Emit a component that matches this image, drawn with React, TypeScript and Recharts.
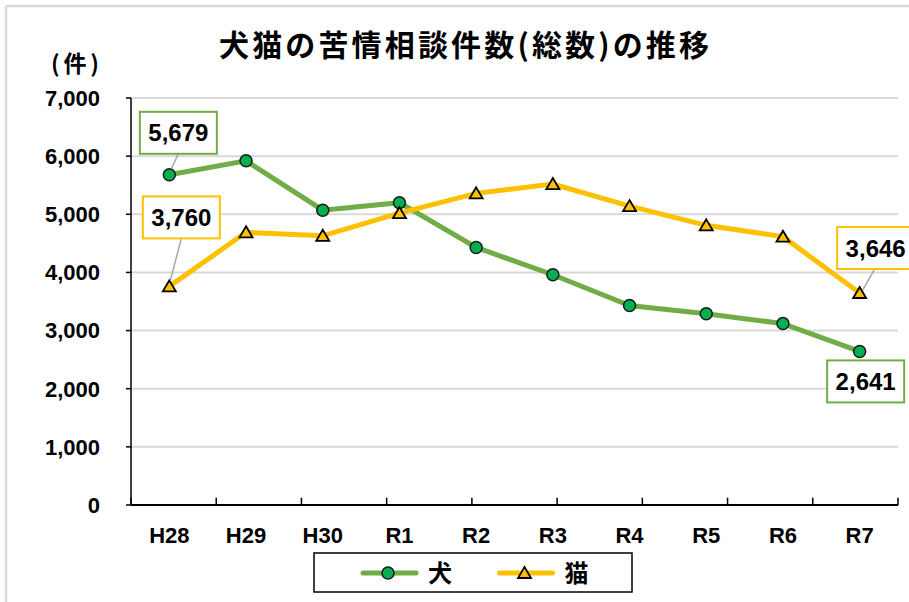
import { CartesianGrid, LabelList, Line, LineChart, ReferenceLine, XAxis, YAxis } from 'recharts'

const years = ['H28', 'H29', 'H30', 'R1', 'R2', 'R3', 'R4', 'R5', 'R6', 'R7']
const dogCounts = [5679, 5920, 5070, 5200, 4430, 3960, 3430, 3290, 3120, 2641]
const catCounts = [3760, 4690, 4630, 5020, 5360, 5520, 5140, 4810, 4615, 3646]
const yTicks = [0, 1000, 2000, 3000, 4000, 5000, 6000, 7000]
const categoryEdges = [0, 1, 2, 3, 4, 5, 6, 7, 8, 9, 10]

const series = [
  { key: 'dog', name: '犬', line: '#70AD47', fill: '#00B050', marker: 'circle' },
  { key: 'cat', name: '猫', line: '#FFC000', fill: '#FFC000', marker: 'triangle' },
]

const rows = years.map((year, i) => ({ year, dog: dogCounts[i], cat: catCounts[i] }))

const jp = '"Noto Sans CJK JP", "Noto Sans", sans-serif'
const num = '"Liberation Sans", Arial, sans-serif'

function Marker({ type, cx, cy, fill }: { type: string; cx: number; cy: number; fill: string }) {
  if (type === 'circle') {
    return <circle cx={cx} cy={cy} r={6} fill={fill} stroke="#1a1a1a" strokeWidth={1.5} />
  }
  return (
    <path
      d={`M${cx},${cy - 6} L${cx + 6.5},${cy + 5} L${cx - 6.5},${cy + 5} Z`}
      fill={fill}
      stroke="#000"
      strokeWidth={1.8}
      strokeLinejoin="miter"
    />
  )
}

// callout box offsets from the data point, only first and last year are labelled
const dogCallouts: Record<number, { dx: number; dy: number; lead?: number[] }> = {
  0: { dx: 9, dy: -42, lead: [9, -21, 2, -6] },
  9: { dx: 6, dy: 30 },
}
const catCallouts: Record<number, { dx: number; dy: number; lead?: number[] }> = {
  0: { dx: 12, dy: -69, lead: [12, -48, 1, -6] },
  9: { dx: 16, dy: -45, lead: [15, -24, 3, -3] },
}

function makeCallout(values: number[], spots: typeof dogCallouts, color: string) {
  return (props: any) => {
    const x = Number(props.x)
    const y = Number(props.y)
    const idx = props.index ?? values.indexOf(Number(props.value))
    const spot = spots[idx]
    if (!spot || isNaN(x) || isNaN(y)) return null
    const bx = x + spot.dx
    const by = y + spot.dy
    return (
      <g key={`callout-${idx}`}>
        {spot.lead && (
          <line
            x1={x + spot.lead[0]}
            y1={y + spot.lead[1]}
            x2={x + spot.lead[2]}
            y2={y + spot.lead[3]}
            stroke="#a6a6a6"
            strokeWidth={1.5}
          />
        )}
        <rect x={bx - 38.5} y={by - 21} width={77} height={42} fill="#fff" stroke={color} strokeWidth={2} />
        <text
          x={bx}
          y={by + 8.5}
          textAnchor="middle"
          fontFamily={num}
          fontWeight="bold"
          fontSize={24}
          fill="#000"
        >
          {Number(props.value).toLocaleString('en-US')}
        </text>
      </g>
    )
  }
}

export default function App() {
  return (
    <div style={{ position: 'absolute', left: 0, top: 0, width: 909, height: 602, background: '#fff', overflow: 'hidden' }}>
      <LineChart width={909} height={602} data={rows} margin={{ top: 98, right: 11, bottom: 57, left: 0 }}>
        <CartesianGrid vertical={false} stroke="#d9d9d9" strokeWidth={2} />
        <XAxis
          dataKey="year"
          interval={0}
          padding={{ left: 38.35, right: 38.35 }}
          height={40}
          tickLine={false}
          tickSize={0}
          tickMargin={22}
          axisLine={{ stroke: '#000', strokeWidth: 2 }}
          tick={{ fill: '#000', fontFamily: num, fontWeight: 'bold', fontSize: 22 }}
        />
        <XAxis xAxisId="edge" type="number" domain={[0, 10]} hide />
        <YAxis
          width={131}
          domain={[0, 7000]}
          ticks={yTicks}
          interval={0}
          tickSize={5}
          tickMargin={26}
          axisLine={{ stroke: '#000', strokeWidth: 1.5 }}
          tickLine={{ stroke: '#000', strokeWidth: 1.5 }}
          tick={{ fill: '#000', fontFamily: num, fontWeight: 'bold', fontSize: 22 }}
          tickFormatter={(v) => Number(v).toLocaleString('en-US')}
        />
        {categoryEdges.map((e) => (
          <ReferenceLine
            key={e}
            xAxisId="edge"
            segment={[
              { x: e, y: 0 },
              { x: e, y: 125 },
            ]}
            stroke="#000"
            strokeWidth={1.5}
          />
        ))}
        <Line
          dataKey="dog"
          name="犬"
          stroke={series[0].line}
          strokeWidth={5}
          isAnimationActive={false}
          dot={(p: any) => <Marker key={`d${p.index}`} type="circle" cx={p.cx} cy={p.cy} fill={series[0].fill} />}
          activeDot={false}
        >
          <LabelList dataKey="dog" content={makeCallout(dogCounts, dogCallouts, series[0].line)} />
        </Line>
        <Line
          dataKey="cat"
          name="猫"
          stroke={series[1].line}
          strokeWidth={5}
          isAnimationActive={false}
          dot={(p: any) => <Marker key={`c${p.index}`} type="triangle" cx={p.cx} cy={p.cy} fill={series[1].fill} />}
          activeDot={false}
        >
          <LabelList dataKey="cat" content={makeCallout(catCounts, catCallouts, series[1].line)} />
        </Line>
      </LineChart>

      <svg width={909} height={602} style={{ position: 'absolute', left: 0, top: 0, pointerEvents: 'none' }}>
        <line x1={6} y1={6} x2={909} y2={6} stroke="#d9d9d9" strokeWidth={2.5} />
        <line x1={6} y1={6} x2={6} y2={602} stroke="#d9d9d9" strokeWidth={2.5} />
        <text
          x={219}
          y={56}
          textLength={490}
          lengthAdjust="spacing"
          fontFamily={jp}
          fontWeight="bold"
          fontSize={30}
          fill="#000"
        >
          犬猫の苦情相談件数(総数)の推移
        </text>
        <text x={51} y={72} textLength={48} lengthAdjust="spacing" fontFamily={jp} fontWeight="bold" fontSize={23} fill="#000">
          (件)
        </text>
        <rect x={314} y={553} width={318} height={39} fill="#fff" stroke="#000" strokeWidth={1.5} />
        {series.map((s, i) => {
          const x0 = 363 + i * 136.5
          return (
            <g key={s.key}>
              <line x1={x0} y1={573} x2={x0 + 53} y2={573} stroke={s.line} strokeWidth={5} strokeLinecap="round" />
              <Marker type={s.marker} cx={x0 + 25} cy={573} fill={s.fill} />
              <text x={x0 + 65} y={582} fontFamily={jp} fontWeight="bold" fontSize={24} fill="#000">
                {s.name}
              </text>
            </g>
          )
        })}
      </svg>
    </div>
  )
}
